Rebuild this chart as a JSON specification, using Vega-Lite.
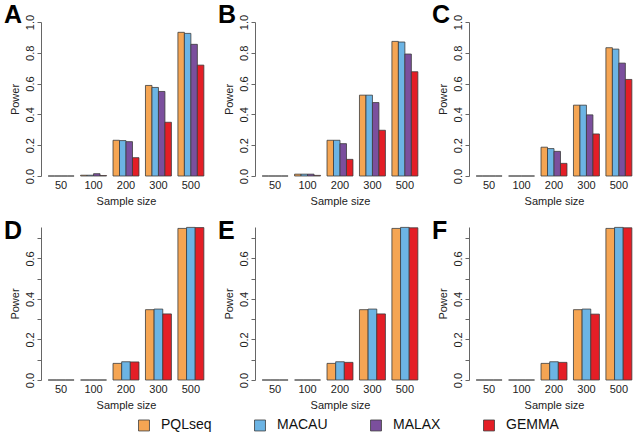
{
  "$schema": "https://vega.github.io/schema/vega-lite/v6.json",
  "padding": {"left": 4, "top": 3, "right": 0, "bottom": 0},
  "background": "white",
  "datasets": {
    "top": [
      {"panel": "A", "size": 50, "method": "PQLseq", "power": 0},
      {"panel": "A", "size": 50, "method": "MACAU", "power": 0},
      {"panel": "A", "size": 50, "method": "MALAX", "power": 0},
      {"panel": "A", "size": 50, "method": "GEMMA", "power": 0},
      {"panel": "A", "size": 100, "method": "PQLseq", "power": 0.005},
      {"panel": "A", "size": 100, "method": "MACAU", "power": 0.005},
      {"panel": "A", "size": 100, "method": "MALAX", "power": 0.015},
      {"panel": "A", "size": 100, "method": "GEMMA", "power": 0.003},
      {"panel": "A", "size": 200, "method": "PQLseq", "power": 0.232},
      {"panel": "A", "size": 200, "method": "MACAU", "power": 0.23},
      {"panel": "A", "size": 200, "method": "MALAX", "power": 0.223},
      {"panel": "A", "size": 200, "method": "GEMMA", "power": 0.119},
      {"panel": "A", "size": 300, "method": "PQLseq", "power": 0.588},
      {"panel": "A", "size": 300, "method": "MACAU", "power": 0.575},
      {"panel": "A", "size": 300, "method": "MALAX", "power": 0.549},
      {"panel": "A", "size": 300, "method": "GEMMA", "power": 0.349},
      {"panel": "A", "size": 500, "method": "PQLseq", "power": 0.933},
      {"panel": "A", "size": 500, "method": "MACAU", "power": 0.926},
      {"panel": "A", "size": 500, "method": "MALAX", "power": 0.855},
      {"panel": "A", "size": 500, "method": "GEMMA", "power": 0.72},
      {"panel": "B", "size": 50, "method": "PQLseq", "power": 0},
      {"panel": "B", "size": 50, "method": "MACAU", "power": 0},
      {"panel": "B", "size": 50, "method": "MALAX", "power": 0},
      {"panel": "B", "size": 50, "method": "GEMMA", "power": 0},
      {"panel": "B", "size": 100, "method": "PQLseq", "power": 0.012},
      {"panel": "B", "size": 100, "method": "MACAU", "power": 0.012},
      {"panel": "B", "size": 100, "method": "MALAX", "power": 0.012},
      {"panel": "B", "size": 100, "method": "GEMMA", "power": 0.004},
      {"panel": "B", "size": 200, "method": "PQLseq", "power": 0.232},
      {"panel": "B", "size": 200, "method": "MACAU", "power": 0.232},
      {"panel": "B", "size": 200, "method": "MALAX", "power": 0.21},
      {"panel": "B", "size": 200, "method": "GEMMA", "power": 0.108},
      {"panel": "B", "size": 300, "method": "PQLseq", "power": 0.525},
      {"panel": "B", "size": 300, "method": "MACAU", "power": 0.525},
      {"panel": "B", "size": 300, "method": "MALAX", "power": 0.477},
      {"panel": "B", "size": 300, "method": "GEMMA", "power": 0.297},
      {"panel": "B", "size": 500, "method": "PQLseq", "power": 0.874},
      {"panel": "B", "size": 500, "method": "MACAU", "power": 0.87},
      {"panel": "B", "size": 500, "method": "MALAX", "power": 0.792},
      {"panel": "B", "size": 500, "method": "GEMMA", "power": 0.677},
      {"panel": "C", "size": 50, "method": "PQLseq", "power": 0},
      {"panel": "C", "size": 50, "method": "MACAU", "power": 0},
      {"panel": "C", "size": 50, "method": "MALAX", "power": 0},
      {"panel": "C", "size": 50, "method": "GEMMA", "power": 0},
      {"panel": "C", "size": 100, "method": "PQLseq", "power": 0},
      {"panel": "C", "size": 100, "method": "MACAU", "power": 0},
      {"panel": "C", "size": 100, "method": "MALAX", "power": 0},
      {"panel": "C", "size": 100, "method": "GEMMA", "power": 0},
      {"panel": "C", "size": 200, "method": "PQLseq", "power": 0.187},
      {"panel": "C", "size": 200, "method": "MACAU", "power": 0.178},
      {"panel": "C", "size": 200, "method": "MALAX", "power": 0.16},
      {"panel": "C", "size": 200, "method": "GEMMA", "power": 0.082},
      {"panel": "C", "size": 300, "method": "PQLseq", "power": 0.46},
      {"panel": "C", "size": 300, "method": "MACAU", "power": 0.46},
      {"panel": "C", "size": 300, "method": "MALAX", "power": 0.397},
      {"panel": "C", "size": 300, "method": "GEMMA", "power": 0.273},
      {"panel": "C", "size": 500, "method": "PQLseq", "power": 0.833},
      {"panel": "C", "size": 500, "method": "MACAU", "power": 0.824},
      {"panel": "C", "size": 500, "method": "MALAX", "power": 0.733},
      {"panel": "C", "size": 500, "method": "GEMMA", "power": 0.627}
    ],
    "bottom": [
      {"panel": "D", "size": 50, "method": "PQLseq", "power": 0},
      {"panel": "D", "size": 50, "method": "MACAU", "power": 0},
      {"panel": "D", "size": 50, "method": "GEMMA", "power": 0},
      {"panel": "D", "size": 100, "method": "PQLseq", "power": 0},
      {"panel": "D", "size": 100, "method": "MACAU", "power": 0},
      {"panel": "D", "size": 100, "method": "GEMMA", "power": 0},
      {"panel": "D", "size": 200, "method": "PQLseq", "power": 0.082},
      {"panel": "D", "size": 200, "method": "MACAU", "power": 0.09},
      {"panel": "D", "size": 200, "method": "GEMMA", "power": 0.089},
      {"panel": "D", "size": 300, "method": "PQLseq", "power": 0.347},
      {"panel": "D", "size": 300, "method": "MACAU", "power": 0.35},
      {"panel": "D", "size": 300, "method": "GEMMA", "power": 0.326},
      {"panel": "D", "size": 500, "method": "PQLseq", "power": 0.748},
      {"panel": "D", "size": 500, "method": "MACAU", "power": 0.753},
      {"panel": "D", "size": 500, "method": "GEMMA", "power": 0.752},
      {"panel": "E", "size": 50, "method": "PQLseq", "power": 0},
      {"panel": "E", "size": 50, "method": "MACAU", "power": 0},
      {"panel": "E", "size": 50, "method": "GEMMA", "power": 0},
      {"panel": "E", "size": 100, "method": "PQLseq", "power": 0},
      {"panel": "E", "size": 100, "method": "MACAU", "power": 0},
      {"panel": "E", "size": 100, "method": "GEMMA", "power": 0},
      {"panel": "E", "size": 200, "method": "PQLseq", "power": 0.082},
      {"panel": "E", "size": 200, "method": "MACAU", "power": 0.09},
      {"panel": "E", "size": 200, "method": "GEMMA", "power": 0.087},
      {"panel": "E", "size": 300, "method": "PQLseq", "power": 0.347},
      {"panel": "E", "size": 300, "method": "MACAU", "power": 0.35},
      {"panel": "E", "size": 300, "method": "GEMMA", "power": 0.326},
      {"panel": "E", "size": 500, "method": "PQLseq", "power": 0.748},
      {"panel": "E", "size": 500, "method": "MACAU", "power": 0.753},
      {"panel": "E", "size": 500, "method": "GEMMA", "power": 0.751},
      {"panel": "F", "size": 50, "method": "PQLseq", "power": 0},
      {"panel": "F", "size": 50, "method": "MACAU", "power": 0},
      {"panel": "F", "size": 50, "method": "GEMMA", "power": 0},
      {"panel": "F", "size": 100, "method": "PQLseq", "power": 0},
      {"panel": "F", "size": 100, "method": "MACAU", "power": 0},
      {"panel": "F", "size": 100, "method": "GEMMA", "power": 0},
      {"panel": "F", "size": 200, "method": "PQLseq", "power": 0.082},
      {"panel": "F", "size": 200, "method": "MACAU", "power": 0.09},
      {"panel": "F", "size": 200, "method": "GEMMA", "power": 0.087},
      {"panel": "F", "size": 300, "method": "PQLseq", "power": 0.347},
      {"panel": "F", "size": 300, "method": "MACAU", "power": 0.35},
      {"panel": "F", "size": 300, "method": "GEMMA", "power": 0.325},
      {"panel": "F", "size": 500, "method": "PQLseq", "power": 0.748},
      {"panel": "F", "size": 500, "method": "MACAU", "power": 0.753},
      {"panel": "F", "size": 500, "method": "GEMMA", "power": 0.751}
    ]
  },
  "config": {
    "font": "Liberation Sans",
    "view": {"stroke": null},
    "axis": {
      "grid": false,
      "domainColor": "#666666",
      "tickColor": "#666666",
      "tickSize": 4,
      "labelFont": "Liberation Sans",
      "titleFont": "Liberation Sans",
      "labelFontSize": 11,
      "titleFontSize": 11,
      "titleFontWeight": "normal",
      "labelColor": "#222222",
      "titleColor": "#222222"
    },
    "title": {
      "anchor": "start",
      "frame": "group",
      "fontSize": 25,
      "font": "Liberation Sans",
      "fontWeight": "bold",
      "color": "#000000",
      "dx": -37
    }
  },
  "resolve": {"scale": {"xOffset": "independent"}},
  "spacing": 13,
  "vconcat": [
    {
      "spacing": 7,
      "hconcat": [
        {
          "title": {"text": "A", "offset": -14},
          "data": {"name": "top"},
          "transform": [{"filter": "datum.panel == 'A'"}],
          "width": 170, "height": 154,
          "mark": {"type": "bar", "stroke": "#3c3c3c", "strokeWidth": 0.8},
          "encoding": {
            "x": {"field": "size", "type": "ordinal", "sort": [50, 100, 200, 300, 500], "scale": {"paddingInner": 0.2, "paddingOuter": 0.22}, "axis": {"title": "Sample size", "labelAngle": 0, "domain": false, "ticks": false, "labelPadding": 3, "titlePadding": 5}},
            "xOffset": {"field": "method", "type": "nominal", "sort": ["PQLseq", "MACAU", "MALAX", "GEMMA"], "scale": {"domain": ["PQLseq", "MACAU", "MALAX", "GEMMA"]}},
            "y": {"field": "power", "type": "quantitative", "scale": {"domain": [0, 1], "nice": false}, "axis": {"title": "Power", "values": [0, 0.2, 0.4, 0.6, 0.8, 1], "format": ".1f", "labelAngle": -90, "labelAlign": "center", "labelBaseline": "bottom", "labelPadding": 2, "titlePadding": 4}},
            "color": {"field": "method", "type": "nominal", "scale": {"domain": ["PQLseq", "MACAU", "MALAX", "GEMMA"], "range": ["#F5A553", "#6CB4E4", "#7B4F9D", "#E41E26"]}, "legend": {"orient": "none", "legendX": 96, "legendY": 396, "direction": "horizontal", "title": null, "symbolType": "square", "symbolSize": 120, "symbolStrokeColor": "#555555", "symbolStrokeWidth": 0.8, "labelFontSize": 14, "labelFont": "Liberation Sans", "labelColor": "#111111", "columnPadding": 40, "labelOffset": 10}}
          }
        },
        {
          "title": {"text": "B", "offset": -14},
          "data": {"name": "top"},
          "transform": [{"filter": "datum.panel == 'B'"}],
          "width": 170, "height": 154,
          "mark": {"type": "bar", "stroke": "#3c3c3c", "strokeWidth": 0.8},
          "encoding": {
            "x": {"field": "size", "type": "ordinal", "sort": [50, 100, 200, 300, 500], "scale": {"paddingInner": 0.2, "paddingOuter": 0.22}, "axis": {"title": "Sample size", "labelAngle": 0, "domain": false, "ticks": false, "labelPadding": 3, "titlePadding": 5}},
            "xOffset": {"field": "method", "type": "nominal", "sort": ["PQLseq", "MACAU", "MALAX", "GEMMA"], "scale": {"domain": ["PQLseq", "MACAU", "MALAX", "GEMMA"]}},
            "y": {"field": "power", "type": "quantitative", "scale": {"domain": [0, 1], "nice": false}, "axis": {"title": "Power", "values": [0, 0.2, 0.4, 0.6, 0.8, 1], "format": ".1f", "labelAngle": -90, "labelAlign": "center", "labelBaseline": "bottom", "labelPadding": 2, "titlePadding": 4}},
            "color": {"field": "method", "type": "nominal", "scale": {"domain": ["PQLseq", "MACAU", "MALAX", "GEMMA"], "range": ["#F5A553", "#6CB4E4", "#7B4F9D", "#E41E26"]}}
          }
        },
        {
          "title": {"text": "C", "offset": -14},
          "data": {"name": "top"},
          "transform": [{"filter": "datum.panel == 'C'"}],
          "width": 170, "height": 154,
          "mark": {"type": "bar", "stroke": "#3c3c3c", "strokeWidth": 0.8},
          "encoding": {
            "x": {"field": "size", "type": "ordinal", "sort": [50, 100, 200, 300, 500], "scale": {"paddingInner": 0.2, "paddingOuter": 0.22}, "axis": {"title": "Sample size", "labelAngle": 0, "domain": false, "ticks": false, "labelPadding": 3, "titlePadding": 5}},
            "xOffset": {"field": "method", "type": "nominal", "sort": ["PQLseq", "MACAU", "MALAX", "GEMMA"], "scale": {"domain": ["PQLseq", "MACAU", "MALAX", "GEMMA"]}},
            "y": {"field": "power", "type": "quantitative", "scale": {"domain": [0, 1], "nice": false}, "axis": {"title": "Power", "values": [0, 0.2, 0.4, 0.6, 0.8, 1], "format": ".1f", "labelAngle": -90, "labelAlign": "center", "labelBaseline": "bottom", "labelPadding": 2, "titlePadding": 4}},
            "color": {"field": "method", "type": "nominal", "scale": {"domain": ["PQLseq", "MACAU", "MALAX", "GEMMA"], "range": ["#F5A553", "#6CB4E4", "#7B4F9D", "#E41E26"]}}
          }
        }
      ]
    },
    {
      "spacing": 7,
      "hconcat": [
        {
          "title": {"text": "D", "offset": -17},
          "data": {"name": "bottom"},
          "transform": [{"filter": "datum.panel == 'D'"}],
          "width": 170, "height": 153,
          "mark": {"type": "bar", "stroke": "#3c3c3c", "strokeWidth": 0.8},
          "encoding": {
            "x": {"field": "size", "type": "ordinal", "sort": [50, 100, 200, 300, 500], "scale": {"paddingInner": 0.2, "paddingOuter": 0.22}, "axis": {"title": "Sample size", "labelAngle": 0, "domain": false, "ticks": false, "labelPadding": 3, "titlePadding": 5}},
            "xOffset": {"field": "method", "type": "nominal", "sort": ["PQLseq", "MACAU", "GEMMA"], "scale": {"domain": ["PQLseq", "MACAU", "GEMMA"]}},
            "y": {"field": "power", "type": "quantitative", "scale": {"domain": [0, 0.755], "nice": false}, "axis": {"title": "Power", "values": [0, 0.1, 0.2, 0.3, 0.4, 0.5, 0.6, 0.7], "format": ".1f", "labelExpr": "indexof(['0.0','0.2','0.4','0.6'], datum.label) >= 0 ? datum.label : ''", "labelAngle": -90, "labelAlign": "center", "labelBaseline": "bottom", "labelPadding": 2, "titlePadding": 4}},
            "color": {"field": "method", "type": "nominal", "scale": {"domain": ["PQLseq", "MACAU", "MALAX", "GEMMA"], "range": ["#F5A553", "#6CB4E4", "#7B4F9D", "#E41E26"]}}
          }
        },
        {
          "title": {"text": "E", "offset": -17},
          "data": {"name": "bottom"},
          "transform": [{"filter": "datum.panel == 'E'"}],
          "width": 170, "height": 153,
          "mark": {"type": "bar", "stroke": "#3c3c3c", "strokeWidth": 0.8},
          "encoding": {
            "x": {"field": "size", "type": "ordinal", "sort": [50, 100, 200, 300, 500], "scale": {"paddingInner": 0.2, "paddingOuter": 0.22}, "axis": {"title": "Sample size", "labelAngle": 0, "domain": false, "ticks": false, "labelPadding": 3, "titlePadding": 5}},
            "xOffset": {"field": "method", "type": "nominal", "sort": ["PQLseq", "MACAU", "GEMMA"], "scale": {"domain": ["PQLseq", "MACAU", "GEMMA"]}},
            "y": {"field": "power", "type": "quantitative", "scale": {"domain": [0, 0.755], "nice": false}, "axis": {"title": "Power", "values": [0, 0.1, 0.2, 0.3, 0.4, 0.5, 0.6, 0.7], "format": ".1f", "labelExpr": "indexof(['0.0','0.2','0.4','0.6'], datum.label) >= 0 ? datum.label : ''", "labelAngle": -90, "labelAlign": "center", "labelBaseline": "bottom", "labelPadding": 2, "titlePadding": 4}},
            "color": {"field": "method", "type": "nominal", "scale": {"domain": ["PQLseq", "MACAU", "MALAX", "GEMMA"], "range": ["#F5A553", "#6CB4E4", "#7B4F9D", "#E41E26"]}}
          }
        },
        {
          "title": {"text": "F", "offset": -17},
          "data": {"name": "bottom"},
          "transform": [{"filter": "datum.panel == 'F'"}],
          "width": 170, "height": 153,
          "mark": {"type": "bar", "stroke": "#3c3c3c", "strokeWidth": 0.8},
          "encoding": {
            "x": {"field": "size", "type": "ordinal", "sort": [50, 100, 200, 300, 500], "scale": {"paddingInner": 0.2, "paddingOuter": 0.22}, "axis": {"title": "Sample size", "labelAngle": 0, "domain": false, "ticks": false, "labelPadding": 3, "titlePadding": 5}},
            "xOffset": {"field": "method", "type": "nominal", "sort": ["PQLseq", "MACAU", "GEMMA"], "scale": {"domain": ["PQLseq", "MACAU", "GEMMA"]}},
            "y": {"field": "power", "type": "quantitative", "scale": {"domain": [0, 0.755], "nice": false}, "axis": {"title": "Power", "values": [0, 0.1, 0.2, 0.3, 0.4, 0.5, 0.6, 0.7], "format": ".1f", "labelExpr": "indexof(['0.0','0.2','0.4','0.6'], datum.label) >= 0 ? datum.label : ''", "labelAngle": -90, "labelAlign": "center", "labelBaseline": "bottom", "labelPadding": 2, "titlePadding": 4}},
            "color": {"field": "method", "type": "nominal", "scale": {"domain": ["PQLseq", "MACAU", "MALAX", "GEMMA"], "range": ["#F5A553", "#6CB4E4", "#7B4F9D", "#E41E26"]}}
          }
        }
      ]
    }
  ]
}
